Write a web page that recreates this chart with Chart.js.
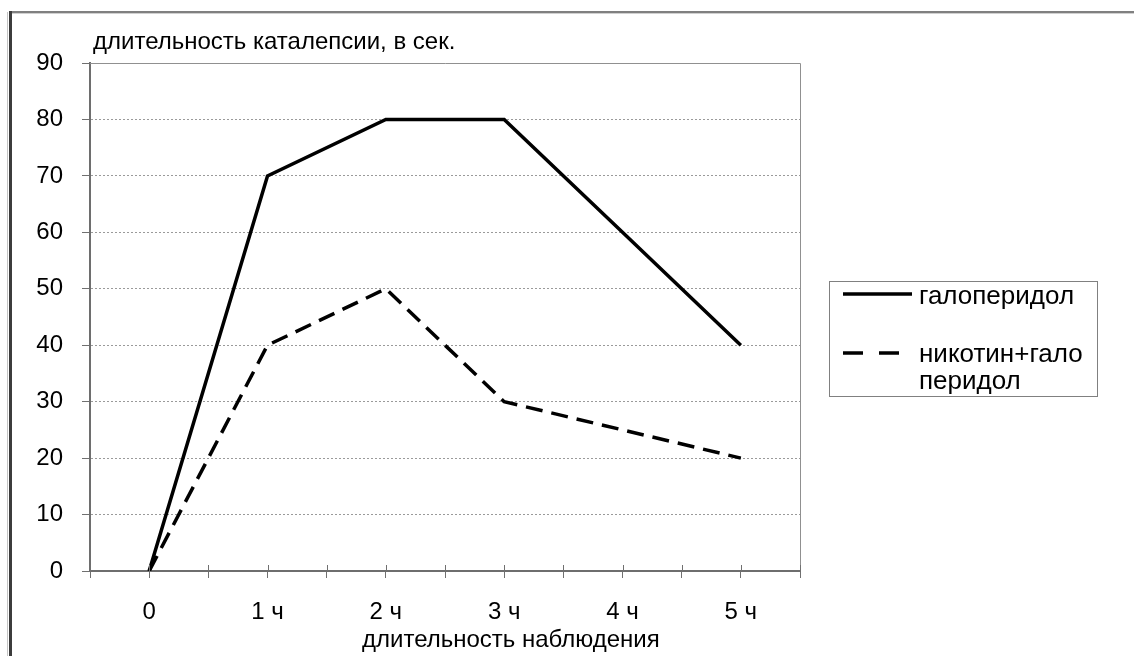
<!DOCTYPE html>
<html>
<head>
<meta charset="utf-8">
<script src="https://cdn.jsdelivr.net/npm/chart.js@4/dist/chart.umd.min.js"></script>
<style>
  html, body { margin: 0; padding: 0; background: #fff; }
  #wrap { width: 1134px; height: 656px; position: relative; }
</style>
</head>
<body>
<div id="wrap"><canvas id="catalepsyChart" width="1134" height="656"></canvas></div>
<script>
// hours of observation and catalepsy duration, sec
const categories = ['0', '1 ч', '2 ч', '3 ч', '4 ч', '5 ч'];
const haloperidol = [0, 70, 80, 80, 60, 40];
const nicotineHaloperidol = [0, 40, 50, 30, 25, 20];
const yMin = 0, yMax = 90, yStep = 10;

const yTitle = 'длительность каталепсии, в сек.';
const xTitle = 'длительность наблюдения';
const legendLabels = [['галоперидол'], ['никотин+гало', 'перидол']];

const FONT = '"Liberation Sans", Arial, sans-serif';
const FONT_SIZE = 24;

// frame, plot border, axis titles and the boxed legend
const decor = {
  id: 'decor',
  beforeDraw(chart) {
    const ctx = chart.ctx;
    ctx.save();
    ctx.fillStyle = '#c4c4c4';
    ctx.fillRect(7, 12, 1, 644);
    ctx.fillStyle = '#3c3c3c';
    ctx.fillRect(9, 11, 3, 645);
    ctx.fillStyle = '#808080';
    ctx.fillRect(12, 11, 1122, 2);
    ctx.fillStyle = '#d0d0d0';
    ctx.fillRect(12, 13, 1122, 1);
    ctx.restore();
  },
  afterDraw(chart) {
    const ctx = chart.ctx;
    const a = chart.chartArea;
    const xs = chart.scales.x;
    ctx.save();

    // plot area border (top and right)
    ctx.strokeStyle = '#909090';
    ctx.lineWidth = 1;
    ctx.beginPath();
    ctx.moveTo(a.left, a.top + 0.5);
    ctx.lineTo(a.right + 0.5, a.top + 0.5);
    ctx.lineTo(a.right + 0.5, a.bottom);
    ctx.stroke();

    // tick marks also poke up above the category axis
    ctx.strokeStyle = '#707070';
    xs.ticks.forEach(t => {
      const px = Math.round(xs.getPixelForValue(t.value)) + 0.5;
      ctx.beginPath();
      ctx.moveTo(px, a.bottom - 6);
      ctx.lineTo(px, a.bottom);
      ctx.stroke();
    });

    // axis titles
    ctx.fillStyle = '#000';
    ctx.font = FONT_SIZE + 'px ' + FONT;
    ctx.textAlign = 'left';
    ctx.textBaseline = 'alphabetic';
    ctx.fillText(yTitle, a.left + 3, 49);
    ctx.fillText(xTitle, 362, 647);

    // legend
    const box = { x: 829, y: 281, w: 268, h: 115 };
    ctx.strokeStyle = '#808080';
    ctx.strokeRect(box.x + 0.5, box.y + 0.5, box.w, box.h);

    ctx.font = '26px ' + FONT;
    const rows = [{ line: 294, text: 304 }, { line: 353, text: 362 }];
    chart.data.datasets.forEach((ds, i) => {
      const r = rows[i];
      ctx.strokeStyle = ds.borderColor;
      ctx.lineWidth = 3.5;
      ctx.setLineDash(ds.borderDash ? [20, 16] : []);
      ctx.beginPath();
      ctx.moveTo(843, r.line);
      ctx.lineTo(i === 0 ? 912 : 899, r.line);
      ctx.stroke();
      ctx.setLineDash([]);
      legendLabels[i].forEach((line, j) => {
        ctx.fillText(line, 919, r.text + j * 27);
      });
    });
    ctx.restore();
  }
};

new Chart(document.getElementById('catalepsyChart'), {
  type: 'line',
  data: {
    datasets: [
      {
        label: 'галоперидол',
        data: haloperidol.map((v, i) => ({ x: i, y: v })),
        borderColor: '#000',
        borderWidth: 3.5,
        pointRadius: 0,
        tension: 0,
        fill: false
      },
      {
        label: 'никотин+галоперидол',
        data: nicotineHaloperidol.map((v, i) => ({ x: i, y: v })),
        borderColor: '#000',
        borderWidth: 3.5,
        borderDash: [17, 9],
        pointRadius: 0,
        tension: 0,
        fill: false
      }
    ]
  },
  options: {
    responsive: false,
    animation: false,
    layout: { padding: { top: 63, left: 0, right: 1134 - 800, bottom: 0 } },
    plugins: {
      legend: { display: false },
      title: { display: false },
      tooltip: { enabled: false }
    },
    scales: {
      x: {
        type: 'linear',
        min: -0.5,
        max: 5.5,
        afterFit: s => { s.height = 85; },
        grid: {
          drawOnChartArea: false,
          drawTicks: true,
          tickLength: 7,
          tickColor: '#707070',
          tickWidth: 1
        },
        border: { color: '#6e6e6e', width: 2 },
        ticks: {
          stepSize: 0.5,
          autoSkip: false,
          maxRotation: 0,
          padding: 20,
          color: '#000',
          font: { family: FONT, size: FONT_SIZE },
          callback: v => Number.isInteger(v) ? categories[v] : ''
        }
      },
      y: {
        min: yMin,
        max: yMax,
        afterFit: s => { s.width = 90; },
        grid: {
          color: '#9a9a9a',
          lineWidth: 1,
          tickLength: 8,
          tickColor: '#707070',
          tickWidth: 1
        },
        border: { color: '#6e6e6e', width: 2, dash: [2, 2] },
        ticks: {
          stepSize: yStep,
          padding: 19,
          color: '#000',
          font: { family: FONT, size: FONT_SIZE }
        }
      }
    }
  },
  plugins: [decor]
});
</script>
</body>
</html>
